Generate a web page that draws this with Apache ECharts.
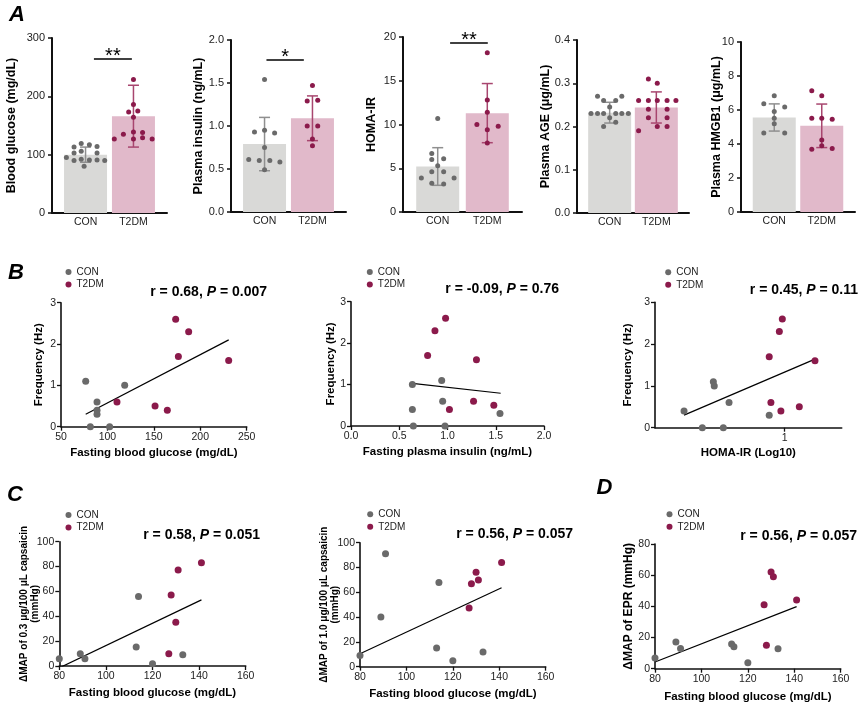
<!DOCTYPE html>
<html><head><meta charset="utf-8">
<script src="https://cdn.jsdelivr.net/npm/echarts@6/dist/echarts.min.js"></script>
<style>html,body{margin:0;padding:0;background:#fff}#c{width:863px;height:707px}</style>
</head><body><div id="c"></div><script>
const FONT = '"Liberation Sans", Arial, Helvetica, sans-serif';
const groups = ['CON', 'T2DM'];

// ---------- Panel A: bar + dot plots ----------
const glucoseMean = [100, 166], glucoseSD = [13, 53];
const glucoseCON = [119, 117, 113, 114, 103, 103, 106, 95, 90, 92, 91, 91, 90, 80];
const glucoseT2DM = [229, 186, 173, 175, 164, 135, 139, 138, 127, 127, 129, 127];
const insulinMean = [0.79, 1.09], insulinSD = [0.31, 0.26];
const insulinCON = [1.54, 0.93, 0.95, 0.92, 0.75, 0.61, 0.60, 0.60, 0.58, 0.49];
const insulinT2DM = [1.47, 1.29, 1.30, 1.00, 1.00, 0.85, 0.77];
const homaMean = [5.2, 11.3], homaSD = [2.15, 3.38];
const homaCON = [10.7, 6.7, 6.1, 6.0, 5.3, 4.6, 4.6, 3.9, 3.9, 3.3, 3.2];
const homaT2DM = [18.2, 12.8, 11.4, 10.0, 9.8, 9.4, 7.9];
const ageMean = [0.232, 0.244], ageSD = [0.024, 0.036];
const ageCON = [0.27, 0.27, 0.26, 0.26, 0.245, 0.23, 0.23, 0.23, 0.23, 0.23, 0.23, 0.22, 0.20, 0.21];
const ageT2DM = [0.31, 0.30, 0.26, 0.26, 0.26, 0.26, 0.26, 0.24, 0.24, 0.22, 0.22, 0.19, 0.20, 0.20];
const hmgbMean = [5.56, 5.07], hmgbSD = [0.8, 1.28];
const hmgbCON = [6.84, 6.37, 6.17, 5.91, 5.52, 5.19, 4.64, 4.64];
const hmgbT2DM = [7.13, 6.84, 5.52, 5.52, 5.46, 4.24, 3.69, 3.90, 3.73];
// horizontal spread of the dots (in group units)
const jitGlucoseCON = [-0.09, 0.08, -0.24, 0.24, -0.24, 0.24, -0.09, -0.40, -0.24, -0.09, 0.08, 0.24, 0.40, -0.03];
const jitGlucoseT2DM = [0, 0, -0.10, 0.09, 0, -0.21, 0, 0.19, -0.40, 0, 0.19, 0.39];
const jitInsulinCON = [0, -0.21, 0, 0.21, 0, -0.33, -0.11, 0.11, 0.32, 0];
const jitInsulinT2DM = [0, -0.11, 0.11, -0.11, 0.11, 0, 0];
const jitHomaCON = [0, -0.12, 0.12, -0.12, 0, -0.12, 0.12, -0.33, 0.33, -0.12, 0.12];
const jitHomaT2DM = [0, 0, 0, -0.21, 0.22, 0, 0];
const jitAgeCON = [-0.26, 0.26, -0.13, 0.13, 0, -0.40, -0.26, -0.13, 0.13, 0.26, 0.40, 0, -0.13, 0.13];
const jitAgeT2DM = [-0.17, 0.02, -0.38, -0.17, 0.02, 0.23, 0.42, -0.17, 0.23, -0.17, 0.23, -0.38, 0.02, 0.23];
const jitHmgbCON = [0, -0.22, 0.22, 0, 0, 0, -0.22, 0.22];
const jitHmgbT2DM = [-0.21, 0, -0.21, 0, 0.22, 0, -0.21, 0, 0.22];
// significance brackets [from, to, height, label]
const sigGlucose = [1.175, 1.967, 264.5, '**'];
const sigInsulin = [1.04, 1.82, 1.77, '*'];
const sigHoma = [1.25, 2.01, 19.4, '**'];

// ---------- Panels B-D: correlations ----------
const b1GlucoseCON = [76.6, 81.6, 88.8, 88.8, 88.8, 102.4, 118.6];
const b1FreqCON = [1.1, 0, 0.6, 0.4, 0.3, 0, 1.0];
const b1GlucoseT2DM = [110.3, 151.3, 164.5, 173.5, 176.4, 187.5, 230.6];
const b1FreqT2DM = [0.6, 0.5, 0.4, 2.6, 1.7, 2.3, 1.6];
const b2InsulinCON = [0.636, 0.636, 0.646, 0.94, 0.95, 0.974, 1.544];
const b2FreqCON = [1.0, 0.4, 0, 1.1, 0.6, 0, 0.3];
const b2InsulinT2DM = [0.794, 0.87, 0.98, 1.02, 1.27, 1.30, 1.48];
const b2FreqT2DM = [1.7, 2.3, 2.6, 0.4, 0.6, 1.6, 0.5];
const b3HomaCON = [0.224, 0.365, 0.450, 0.457, 0.527, 0.571, 0.881];
const b3FreqCON = [0.4, 0, 1.1, 1.0, 0, 0.6, 0.3];
const b3HomaT2DM = [0.881, 0.894, 0.959, 0.971, 0.982, 1.113, 1.234];
const b3FreqT2DM = [1.7, 0.6, 2.3, 0.4, 2.6, 0.5, 1.6];
const cGlucoseCON = [80, 89, 91, 113, 114, 120, 133];
const cGlucoseT2DM = [127, 128, 130, 131, 141];
const c1MapCON = [5.9, 9.9, 5.9, 15.3, 56, 1.9, 9.1];
const c1MapT2DM = [9.9, 57.1, 35.1, 77.2, 83.1];
const c2MapCON = [9.1, 40.1, 91.1, 15.1, 68, 4.8, 11.8];
const c2MapT2DM = [47.3, 66.9, 76.1, 69.9, 84.1];
const dMapCON = [6.8, 17.1, 13.0, 15.8, 14.1, 3.85, 12.8];
const dMapT2DM = [41.1, 15, 62, 59, 44.1];
const fitB1 = [[76.6, 0.30], [230.6, 2.10]];
const fitB2 = [[0.636, 1.03], [1.551, 0.79]];
const fitB3 = [[0.224, 0.30], [1.234, 1.64]];
const fitC1 = [[80, -1.5], [141, 53.2]];
const fitC2 = [[80, 10.5], [141, 63.7]];
const fitD = [[80, 4.3], [141, 39.8]];
const statR = ['0.68', '-0.09', '0.45', '0.58', '0.56', '0.56'];
const statP = ['0.007', '0.76', '0.11', '0.051', '0.057', '0.057'];
const homaTicks = [1];
const panelLetters = ['A', 'B', 'C', 'D'];

// ---------- styles ----------
const COL = { conDot: '#6a6a6a', t2Dot: '#8b1a4b', conBar: '#d9d9d7', t2Bar: '#e1b9ca',
  conErr: '#8f8f8f', t2Err: '#a8466f', axis: '#111', text: '#222' };

const grid = [], xAxis = [], yAxis = [], series = [], title = [], legend = [];

function barPanel(p) {
  const i = grid.length;
  grid.push({ left: p.box[0], top: p.box[1], width: p.box[2], height: p.box[3], containLabel: false, outerBoundsMode: 'none' });
  xAxis.push({ gridIndex: i, type: 'value', min: 0.3, max: 2.7,
    axisLine: { show: true, onZero: false, lineStyle: { color: COL.axis, width: 2 } },
    axisTick: { show: false }, splitLine: { show: false },
    axisLabel: { customValues: [1, 2], formatter: v => groups[Math.round(v) - 1], margin: 4, fontSize: 10.5, color: COL.text, fontFamily: FONT } });
  yAxis.push({ gridIndex: i, type: 'value', min: 0, max: p.yMax, interval: p.yStep,
    axisLine: { show: true, onZero: false, lineStyle: { color: COL.axis, width: 2 } },
    axisTick: { show: true, length: 4, lineStyle: { color: COL.axis, width: 1.5 } },
    splitLine: { show: false },
    axisLabel: { margin: 7, fontSize: 11, color: COL.text, fontFamily: FONT, formatter: v => v.toFixed(p.dec) },
    name: p.name, nameLocation: 'middle', nameGap: p.gap, nameRotate: 90, nameMoveOverlap: false,
    nameTextStyle: { fontSize: 12.5, fontWeight: 'bold', color: '#000', fontFamily: FONT } });
  const barColors = [COL.conBar, COL.t2Bar], errColors = [COL.conErr, COL.t2Err];
  const bar = { type: 'bar', xAxisIndex: i, yAxisIndex: i, barWidth: 43, silent: true, z: 1,
    data: p.mean.map((m, k) => ({ value: [k + 1, m], itemStyle: { color: barColors[k] } })) };
  if (p.sig) {
    bar.markLine = { symbol: ['none', 'none'], silent: true, animation: false,
      lineStyle: { color: '#000', width: 1.5, type: 'solid' },
      label: { show: true, position: 'middle', formatter: p.sig[3], fontSize: 20, color: '#000', distance: -8, fontFamily: FONT },
      emphasis: { disabled: true },
      data: [[{ coord: [p.sig[0], p.sig[2]] }, { coord: [p.sig[1], p.sig[2]] }]] };
  }
  series.push(bar);
  series.push({ type: 'custom', xAxisIndex: i, yAxisIndex: i, silent: true, z: 3,
    data: p.mean.map((m, k) => ({ value: [k + 1, m, p.sd[k]], itemStyle: { color: errColors[k] } })),
    renderItem: (params, api) => {
      const x = api.value(0), m = api.value(1), s = api.value(2);
      const a = api.coord([x, m + s]), b = api.coord([x, m - s]);
      const c = api.visual('color'), h = 5.5;
      const st = { stroke: c, lineWidth: 1.5 };
      return { type: 'group', children: [
        { type: 'line', shape: { x1: a[0], y1: a[1], x2: b[0], y2: b[1] }, style: st },
        { type: 'line', shape: { x1: a[0] - h, y1: a[1], x2: a[0] + h, y2: a[1] }, style: st },
        { type: 'line', shape: { x1: b[0] - h, y1: b[1], x2: b[0] + h, y2: b[1] }, style: st }] };
    } });
  [[p.con, p.conJit, COL.conDot, 1], [p.t2, p.t2Jit, COL.t2Dot, 2]].forEach(([vals, jit, col, g]) => {
    series.push({ type: 'scatter', xAxisIndex: i, yAxisIndex: i, silent: true, z: 4, symbolSize: 5,
      itemStyle: { color: col, opacity: 1 }, data: vals.map((v, k) => [g + jit[k], v]) });
  });
}

function scatterPanel(p) {
  const i = grid.length;
  grid.push({ left: p.box[0], top: p.box[1], width: p.box[2], height: p.box[3], containLabel: false, outerBoundsMode: 'none' });
  const xa = { gridIndex: i, type: 'value', min: p.x[0], max: p.x[1],
    axisLine: { show: true, onZero: false, lineStyle: { color: COL.axis, width: 1.6 } },
    axisTick: { show: true, length: 4, lineStyle: { color: COL.axis, width: 1.3 } },
    splitLine: { show: false },
    axisLabel: { margin: 5, fontSize: 10.5, color: COL.text, fontFamily: FONT, formatter: p.xFmt },
    name: p.xName, nameLocation: 'middle', nameGap: p.xGap, nameMoveOverlap: false,
    nameTextStyle: { fontSize: 11.5, fontWeight: 'bold', color: '#000', fontFamily: FONT } };
  if (p.x[2]) xa.interval = p.x[2];
  if (p.xCustom) { xa.axisLabel.customValues = p.xCustom; xa.axisTick.customValues = p.xCustom; }
  xAxis.push(xa);
  yAxis.push({ gridIndex: i, type: 'value', min: p.y[0], max: p.y[1], interval: p.y[2],
    axisLine: { show: true, onZero: false, lineStyle: { color: COL.axis, width: 1.6 } },
    axisTick: { show: true, length: 4, lineStyle: { color: COL.axis, width: 1.3 } },
    splitLine: { show: false },
    axisLabel: { margin: 5, fontSize: 10.5, color: COL.text, fontFamily: FONT },
    name: p.yName, nameLocation: 'middle', nameGap: p.yGap, nameRotate: 90, nameMoveOverlap: false,
    nameTextStyle: { fontSize: p.yFont, fontWeight: 'bold', color: '#000', fontFamily: FONT, lineHeight: p.yLH || p.yFont + 1 } });
  series.push({ type: 'line', xAxisIndex: i, yAxisIndex: i, silent: true, z: 2, symbol: 'none', clip: true,
    lineStyle: { color: '#000', width: 1.2 }, data: p.fit });
  series.push({ type: 'scatter', name: 'CON', xAxisIndex: i, yAxisIndex: i, silent: true, z: 3, symbolSize: 7,
    itemStyle: { color: COL.conDot, opacity: 1 }, data: p.conX.map((v, k) => [v, p.conY[k]]) });
  series.push({ type: 'scatter', name: 'T2DM', xAxisIndex: i, yAxisIndex: i, silent: true, z: 3, symbolSize: 7,
    itemStyle: { color: COL.t2Dot, opacity: 1 }, data: p.t2X.map((v, k) => [v, p.t2Y[k]]) });
  legend.push({ orient: 'vertical', left: p.leg[0], top: p.leg[1], padding: 0, itemWidth: 6, itemHeight: 6,
    itemGap: 0.5, icon: 'circle', selectedMode: false, data: groups,
    textStyle: { fontSize: 10, color: '#222', lineHeight: 12, fontFamily: FONT } });
  const st = { fontSize: 14, fontWeight: 'bold', color: '#000', fontFamily: FONT, lineHeight: 16 };
  title.push({ right: p.stat[0], top: p.stat[1], padding: 0,
    text: `{b|r = ${statR[p.s]}, }{i|P}{b| = ${statP[p.s]}}`,
    textStyle: { rich: { b: st, i: Object.assign({}, st, { fontStyle: 'italic' }) } } });
}

barPanel({ box: [52, 38, 115, 175], yMax: 300, yStep: 100, dec: 0, name: 'Blood glucose (mg/dL)', gap: 34,
  mean: glucoseMean, sd: glucoseSD, con: glucoseCON, conJit: jitGlucoseCON, t2: glucoseT2DM, t2Jit: jitGlucoseT2DM, sig: sigGlucose });
barPanel({ box: [231, 40, 115, 172], yMax: 2, yStep: 0.5, dec: 1, name: 'Plasma insulin (ng/mL)', gap: 26,
  mean: insulinMean, sd: insulinSD, con: insulinCON, conJit: jitInsulinCON, t2: insulinT2DM, t2Jit: jitInsulinT2DM, sig: sigInsulin });
barPanel({ box: [403, 37, 119, 175], yMax: 20, yStep: 5, dec: 0, name: 'HOMA-IR', gap: 25,
  mean: homaMean, sd: homaSD, con: homaCON, conJit: jitHomaCON, t2: homaT2DM, t2Jit: jitHomaT2DM, sig: sigHoma });
barPanel({ box: [577, 40, 112, 173], yMax: 0.4, yStep: 0.1, dec: 1, name: 'Plasma AGE (μg/mL)', gap: 25,
  mean: ageMean, sd: ageSD, con: ageCON, conJit: jitAgeCON, t2: ageT2DM, t2Jit: jitAgeT2DM });
barPanel({ box: [741, 42, 114, 170], yMax: 10, yStep: 2, dec: 0, name: 'Plasma HMGB1 (μg/mL)', gap: 18,
  mean: hmgbMean, sd: hmgbSD, con: hmgbCON, conJit: jitHmgbCON, t2: hmgbT2DM, t2Jit: jitHmgbT2DM });

scatterPanel({ box: [61, 302.7, 185.7, 124], x: [50, 250, 50], y: [0, 3, 1], s: 0,
  xName: 'Fasting blood glucose (mg/dL)', xGap: 20, yName: 'Frequency (Hz)', yGap: 16, yFont: 11.5,
  conX: b1GlucoseCON, conY: b1FreqCON, t2X: b1GlucoseT2DM, t2Y: b1FreqT2DM, fit: fitB1,
  leg: [65.5, 266], stat: [596, 283.7] });
scatterPanel({ box: [351, 301.7, 193, 124.3], x: [0, 2, 0.5], y: [0, 3, 1], s: 1, xFmt: v => v.toFixed(1),
  xName: 'Fasting plasma insulin (ng/mL)', xGap: 20, yName: 'Frequency (Hz)', yGap: 14, yFont: 11.5,
  conX: b2InsulinCON, conY: b2FreqCON, t2X: b2InsulinT2DM, t2Y: b2FreqT2DM, fit: fitB2,
  leg: [366.8, 266], stat: [304, 281.3] });
scatterPanel({ box: [655, 302.3, 186.7, 125.4], x: [0, 1.44, 0], xCustom: homaTicks, y: [0, 3, 1], s: 2,
  xName: 'HOMA-IR (Log10)', xGap: 19.5, yName: 'Frequency (Hz)', yGap: 21, yFont: 11.5,
  conX: b3HomaCON, conY: b3FreqCON, t2X: b3HomaT2DM, t2Y: b3FreqT2DM, fit: fitB3,
  leg: [665.2, 266.3], stat: [5, 282] });
scatterPanel({ box: [59.3, 541.7, 186.4, 124.3], x: [80, 160, 20], y: [0, 100, 20], s: 3,
  xName: 'Fasting blood glucose (mg/dL)', xGap: 21, yName: 'ΔMAP of 0.3 μg/100 μL capsaicin\n(mmHg)', yGap: 19, yFont: 10, yLH: 11,
  conX: cGlucoseCON, conY: c1MapCON, t2X: cGlucoseT2DM, t2Y: c1MapT2DM, fit: fitC1,
  leg: [65.5, 509], stat: [603, 527] });
scatterPanel({ box: [360, 542.7, 185.7, 124], x: [80, 160, 20], y: [0, 100, 20], s: 4,
  xName: 'Fasting blood glucose (mg/dL)', xGap: 21, yName: 'ΔMAP of 1.0 μg/100 μL capsaicin\n(mmHg)', yGap: 19, yFont: 10, yLH: 11,
  conX: cGlucoseCON, conY: c2MapCON, t2X: cGlucoseT2DM, t2Y: c2MapT2DM, fit: fitC2,
  leg: [367.2, 508.3], stat: [290, 526] });
scatterPanel({ box: [655, 544, 185.7, 124.7], x: [80, 160, 20], y: [0, 80, 20], s: 5,
  xName: 'Fasting blood glucose (mg/dL)', xGap: 22, yName: 'ΔMAP of EPR (mmHg)', yGap: 20, yFont: 12,
  conX: cGlucoseCON, conY: dMapCON, t2X: cGlucoseT2DM, t2Y: dMapT2DM, fit: fitD,
  leg: [666.5, 508.3], stat: [6, 527.7] });

const letterPos = [[9, 4], [8, 262], [7, 484], [596.5, 477]];
panelLetters.forEach((t, k) => title.push({ text: t, left: letterPos[k][0], top: letterPos[k][1], padding: 0,
  textStyle: { fontSize: 22, fontWeight: 'bold', fontStyle: 'italic', color: '#000', fontFamily: FONT, lineHeight: 22 } }));

const chart = echarts.init(document.getElementById('c'), null, { renderer: 'canvas' });
chart.setOption({ animation: false, backgroundColor: '#fff', textStyle: { fontFamily: FONT },
  grid, xAxis, yAxis, series, title, legend });
</script></body></html>
